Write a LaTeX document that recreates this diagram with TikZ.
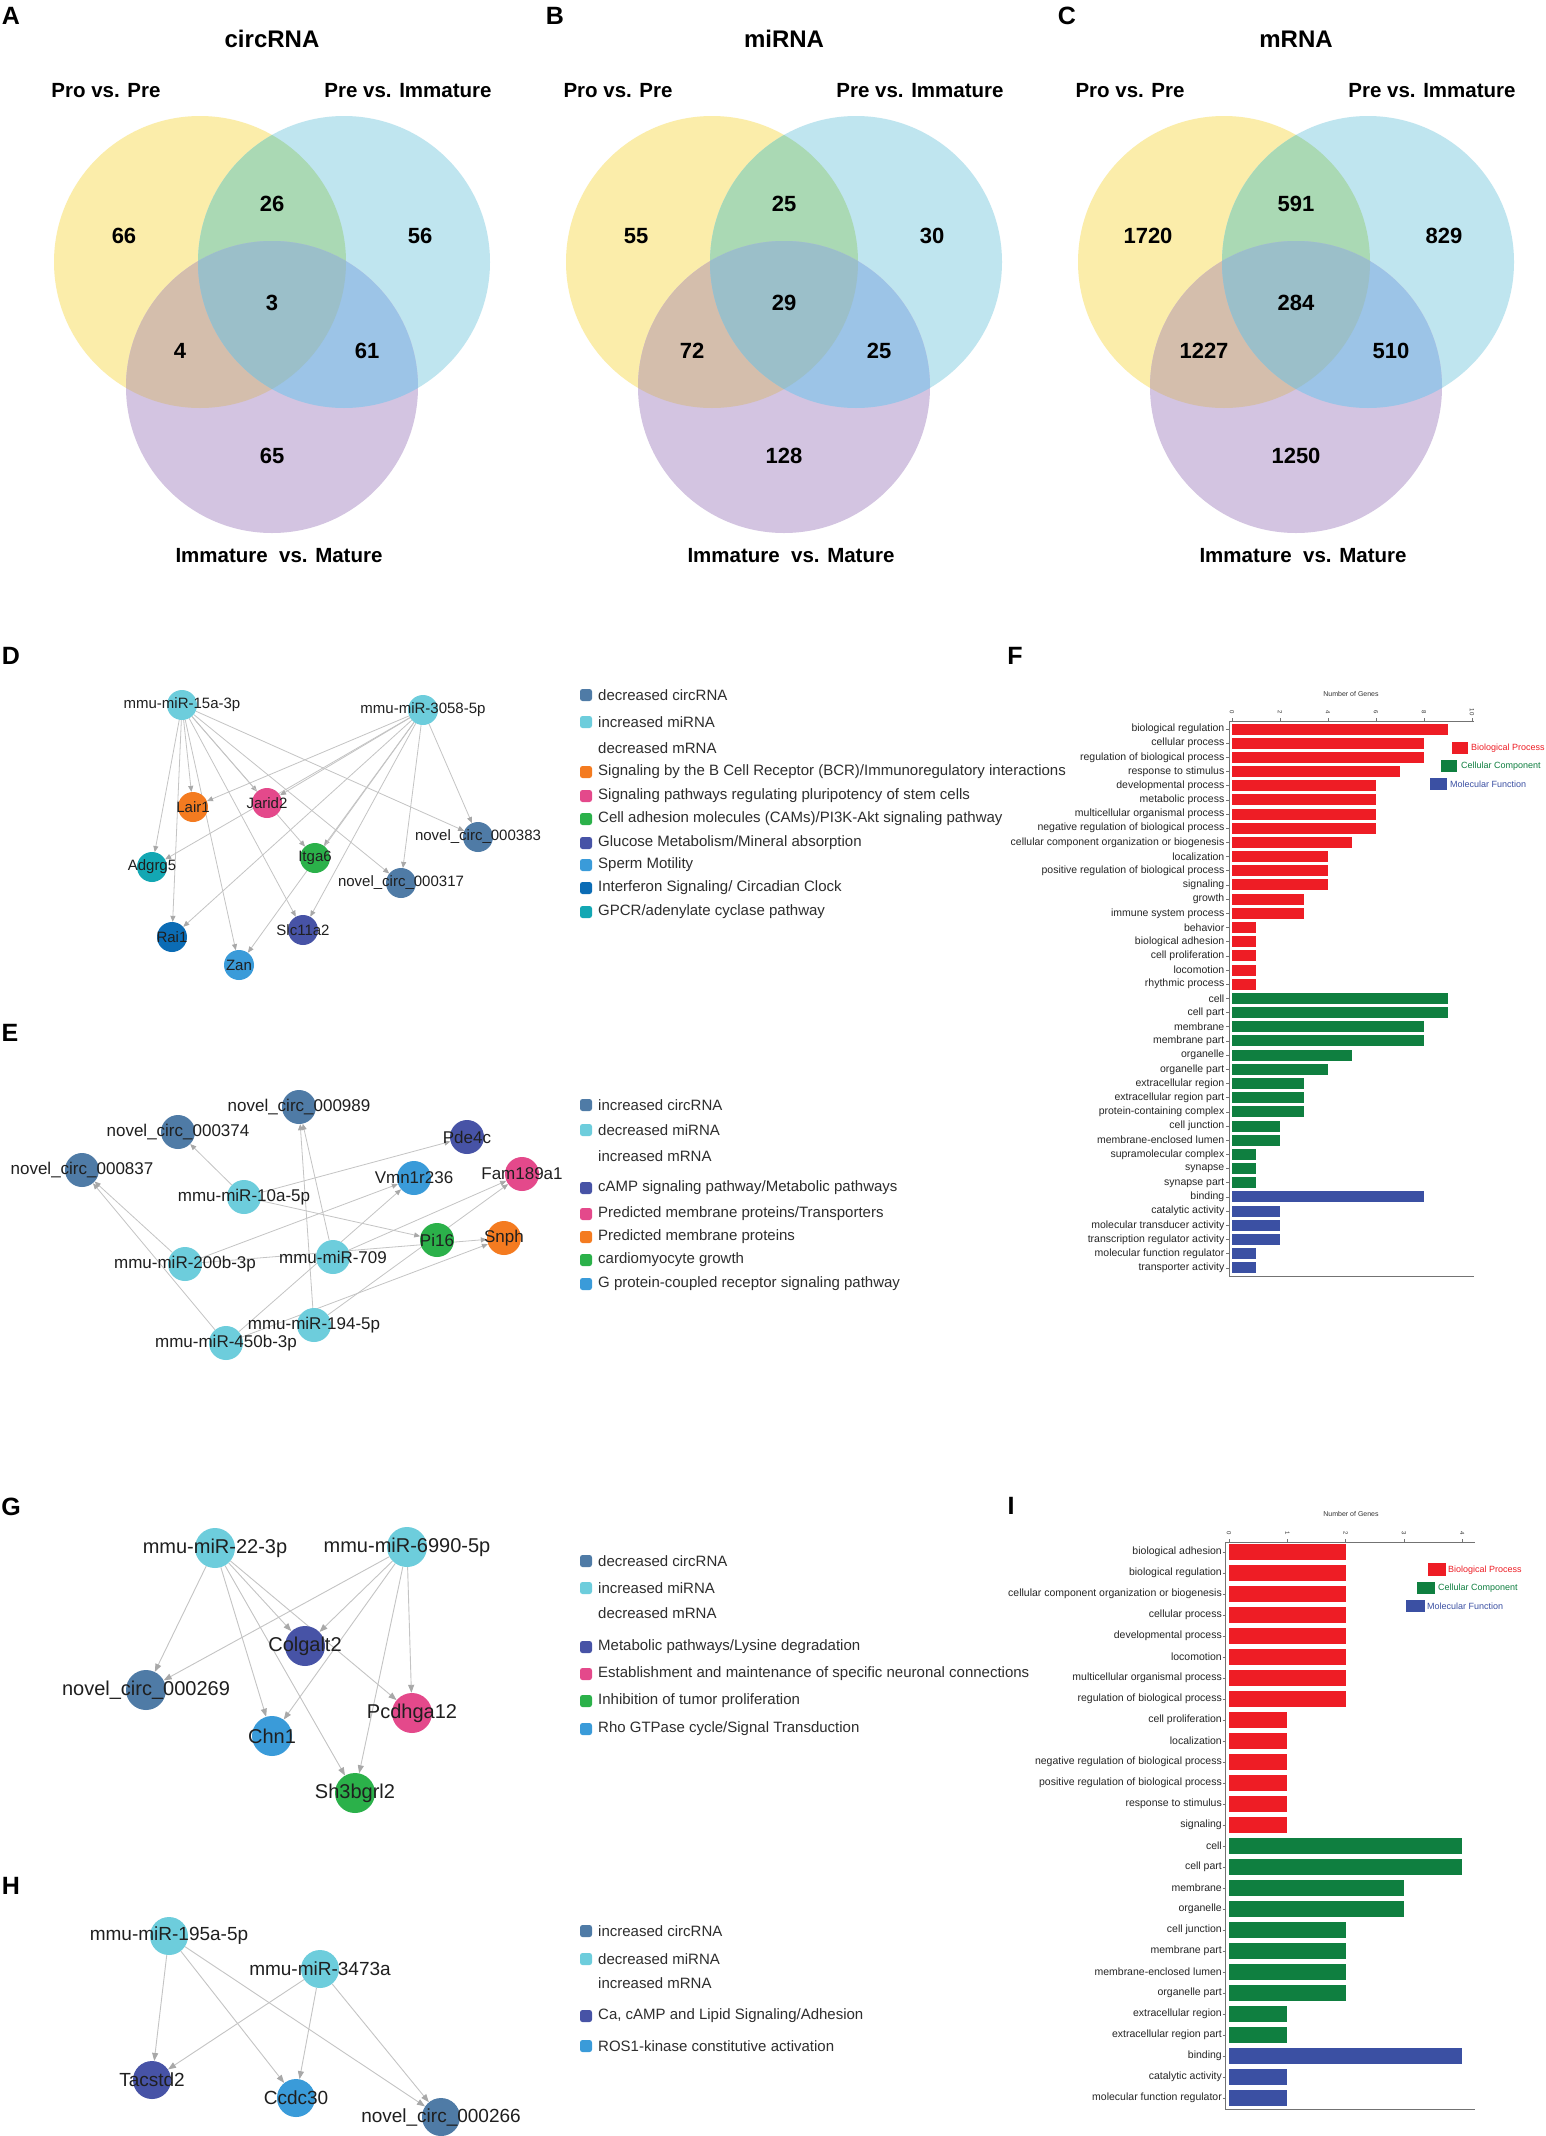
\documentclass[tikz,border=0pt]{standalone}
\usepackage{fontspec}
\setmainfont{Liberation Sans}
\usetikzlibrary{arrows.meta}
\pgfdeclarelayer{bglayer}
\pgfdeclarelayer{edgelayer}
\pgfsetlayers{bglayer,edgelayer,main}

\definecolor{cCirc}{HTML}{4F7BA6}
\definecolor{cMir}{HTML}{6DCDDC}
\definecolor{cOrange}{HTML}{F47B20}
\definecolor{cPink}{HTML}{E4498B}
\definecolor{cGreen}{HTML}{2BB14A}
\definecolor{cIndigo}{HTML}{4753A6}
\definecolor{cSky}{HTML}{3A9BD9}
\definecolor{cDeep}{HTML}{0B6CB5}
\definecolor{cTeal}{HTML}{13A7B3}
\definecolor{edgeGray}{HTML}{C4C4C4}
\definecolor{arrowGray}{HTML}{A8A8A8}
\definecolor{barRed}{HTML}{EE1D25}
\definecolor{barGreen}{HTML}{0F7F40}
\definecolor{barBlue}{HTML}{3B50A3}
\definecolor{vY}{HTML}{FBEDAA}
\definecolor{vB}{HTML}{BFE5EF}
\definecolor{vP}{HTML}{D3C4E1}
\definecolor{vYB}{HTML}{AAD9B4}
\definecolor{vYP}{HTML}{D4BEAC}
\definecolor{vBP}{HTML}{9CC4E7}
\definecolor{vYBP}{HTML}{9BBFC9}

\tikzset{
 gdot/.style={circle,inner sep=0pt,draw=none},
 dD/.style={gdot,minimum size=30pt},
 dD label/.style={inner sep=0pt,text=black!88,font=\fontsize{15}{15}\selectfont},
 dE/.style={gdot,minimum size=34pt},
 dE label/.style={inner sep=0pt,text=black!88,font=\fontsize{17}{17}\selectfont},
 dG/.style={gdot,minimum size=40pt},
 dG label/.style={inner sep=0pt,text=black!88,font=\fontsize{20}{20}\selectfont},
 dH/.style={gdot,minimum size=38pt},
 dH label/.style={inner sep=0pt,text=black!88,font=\fontsize{19}{19}\selectfont},
 arrS/.style={draw=edgeGray,line width=0.8pt,-{Triangle[length=6pt,width=5pt,color=arrowGray]}},
 arrL/.style={draw=edgeGray,line width=0.9pt,-{Triangle[length=8pt,width=6pt,color=arrowGray]}},
 legsq/.style={rounded corners=2.5pt,minimum size=12pt,inner sep=0pt,draw=none},
 legtx/.style={anchor=west,inner sep=0pt,text=black!82,font=\fontsize{15}{15}\selectfont},
 venn num/.style={font=\bfseries\fontsize{22}{22}\selectfont,inner sep=0pt},
 venn lab/.style={font=\bfseries\fontsize{20.5}{20.5}\selectfont,inner sep=0pt},
 venn title/.style={font=\bfseries\fontsize{24}{24}\selectfont,inner sep=0pt},
 panel/.style={font=\bfseries\fontsize{25}{25}\selectfont,inner sep=0pt},
 barlab/.style={anchor=east,inner sep=0pt,font=\fontsize{10.5}{10.5}\selectfont,text=black!85},
 ticklab/.style={inner sep=0pt,font=\fontsize{6}{6}\selectfont,rotate=-90,text=black!80},
 axtitle/.style={inner sep=0pt,font=\fontsize{7}{7}\selectfont,text=black!80},
 goleg/.style={anchor=west,inner sep=0pt,font=\fontsize{9}{9}\selectfont},
 axline/.style={draw=black!55,line width=0.7pt},
}

\newcommand\vennset[9]{%
 \fill[vY] (#1-72,262) circle[radius=146];
 \fill[vB] (#1+72,262) circle[radius=146];
 \fill[vP] (#1,387) circle[radius=146];
 \begin{scope}\clip (#1-72,262) circle[radius=146];
   \fill[vYB] (#1+72,262) circle[radius=146];
   \fill[vYP] (#1,387) circle[radius=146];
 \end{scope}
 \begin{scope}\clip (#1+72,262) circle[radius=146];
   \fill[vBP] (#1,387) circle[radius=146];
 \end{scope}
 \begin{scope}\clip (#1-72,262) circle[radius=146];\clip (#1+72,262) circle[radius=146];
   \fill[vYBP] (#1,387) circle[radius=146];
 \end{scope}
 \node[venn title] (vtitle#1) at (#1,39) {#2};
 \node[venn lab] (vla#1) at (#1-166,91) {Pro vs. Pre};
 \node[venn lab] (vlb#1) at (#1+136,91) {Pre vs. Immature};
 \node[venn lab] (vlc#1) at (#1+7,556) {Immature\ \ vs. Mature};
 \node[venn num] (vnY#1) at (#1-148,236) {#3};
 \node[venn num] (vnYB#1) at (#1,204) {#4};
 \node[venn num] (vnB#1) at (#1+148,236) {#5};
 \node[venn num] (vnC#1) at (#1,303) {#6};
 \node[venn num] (vnYP#1) at (#1-92,351) {#7};
 \node[venn num] (vnBP#1) at (#1+95,351) {#8};
 \node[venn num] (vnP#1) at (#1,456) {#9};
}
\newcommand\gnode[5]{%
 \node[#4,fill=#3] (#1) at (#2) {};
 \node[#4 label] (#1-t) at (#1.center) {#5};
}
\newcommand\legbox[4]{%
 \node[legsq,fill=#3] (#1-s) at (586,#2) {};
 \node[legtx] (#1) at (598,#2) {#4};
}
\newcommand\legplain[3]{\node[legtx] (#1) at (598,#2) {#3};}

\begin{document}
\begin{tikzpicture}[x=1pt,y=-1pt]
\useasboundingbox (0,0) rectangle (1546,2136);
\begin{pgfonlayer}{bglayer}
\fill[white] (0,0) rectangle (1546,2136);
\end{pgfonlayer}

% ---------- Venn diagrams ----------
\vennset{272}{circRNA}{66}{26}{56}{3}{4}{61}{65}
\vennset{784}{miRNA}{55}{25}{30}{29}{72}{25}{128}
\vennset{1296}{mRNA}{1720}{591}{829}{284}{1227}{510}{1250}

\node[panel] (pA) at (11,16) {A};
\node[panel] (pB) at (555,16) {B};
\node[panel] (pC) at (1067,16) {C};
\node[panel] (pD) at (11,656) {D};
\node[panel] (pE) at (10,1033) {E};
\node[panel] (pF) at (1015,656) {F};
\node[panel] (pG) at (11,1507) {G};
\node[panel] (pH) at (11,1886) {H};
\node[panel] (pI) at (1011,1506) {I};

% ---------- D network ----------
\gnode{dm15}{182,705}{cMir}{dD}{mmu-miR-15a-3p}
\gnode{dm3058}{423,710}{cMir}{dD}{mmu-miR-3058-5p}
\gnode{dlair}{193,807}{cOrange}{dD}{Lair1}
\gnode{djarid}{267,803}{cPink}{dD}{Jarid2}
\gnode{dadg}{152,867}{cTeal}{dD}{Adgrg5}
\gnode{ditga}{315,858}{cGreen}{dD}{Itga6}
\gnode{dc383}{478,837}{cCirc}{dD}{novel\_circ\_000383}
\gnode{dc317}{401,883}{cCirc}{dD}{novel\_circ\_000317}
\gnode{drai}{172,937}{cDeep}{dD}{Rai1}
\gnode{dslc}{303,930}{cIndigo}{dD}{Slc11a2}
\gnode{dzan}{239,965}{cSky}{dD}{Zan}
\begin{pgfonlayer}{edgelayer}
\foreach \t in {dlair,djarid,dadg,ditga,dc383,dc317,drai,dslc,dzan}{
  \draw[arrS] (dm15) -- (\t);
  \draw[arrS] (dm3058) -- (\t);
}
\end{pgfonlayer}

\legbox{dl1}{695}{cCirc}{decreased circRNA}
\legbox{dl2}{722}{cMir}{increased miRNA}
\legplain{dl3}{748}{decreased mRNA}
\legbox{dl4}{772}{cOrange}{Signaling by the B Cell Receptor (BCR)/Immunoregulatory interactions}
\legbox{dl5}{796}{cPink}{Signaling pathways regulating pluripotency of stem cells}
\legbox{dl6}{819}{cGreen}{Cell adhesion molecules (CAMs)/PI3K-Akt signaling pathway}
\legbox{dl7}{843}{cIndigo}{Glucose Metabolism/Mineral absorption}
\legbox{dl8}{865}{cSky}{Sperm Motility}
\legbox{dl9}{888}{cDeep}{Interferon Signaling/ Circadian Clock}
\legbox{dl10}{912}{cTeal}{GPCR/adenylate cyclase pathway}

% ---------- E network ----------
\gnode{ec989}{299,1107}{cCirc}{dE}{novel\_circ\_000989}
\gnode{ec374}{178,1132}{cCirc}{dE}{novel\_circ\_000374}
\gnode{ec837}{82,1170}{cCirc}{dE}{novel\_circ\_000837}
\gnode{epde}{467,1137}{cIndigo}{dE}{Pde4c}
\gnode{evmn}{414,1178}{cSky}{dE}{Vmn1r236}
\gnode{efam}{522,1174}{cPink}{dE}{Fam189a1}
\gnode{em10a}{244,1197}{cMir}{dE}{mmu-miR-10a-5p}
\gnode{epi}{437,1240}{cGreen}{dE}{Pi16}
\gnode{esnph}{504,1238}{cOrange}{dE}{Snph}
\gnode{em200b}{185,1264}{cMir}{dE}{mmu-miR-200b-3p}
\gnode{em709}{333,1257}{cMir}{dE}{mmu-miR-709}
\gnode{em194}{314,1325}{cMir}{dE}{mmu-miR-194-5p}
\gnode{em450b}{226,1343}{cMir}{dE}{mmu-miR-450b-3p}
\begin{pgfonlayer}{edgelayer}
\draw[arrS] (em10a) -- (ec374);
\draw[arrS] (em10a) -- (epde);
\draw[arrS] (em10a) -- (epi);
\draw[arrS] (em200b) -- (ec837);
\draw[arrS] (em200b) -- (evmn);
\draw[arrS] (em200b) -- (esnph);
\draw[arrS] (em450b) -- (ec837);
\draw[arrS] (em450b) -- (evmn);
\draw[arrS] (em450b) -- (esnph);
\draw[arrS] (em709) -- (ec989);
\draw[arrS] (em709) -- (efam);
\draw[arrS] (em194) -- (ec989);
\draw[arrS] (em194) -- (efam);
\end{pgfonlayer}

\legbox{el1}{1105}{cCirc}{increased circRNA}
\legbox{el2}{1130}{cMir}{decreased miRNA}
\legplain{el3}{1156}{increased mRNA}
\legbox{el4}{1188}{cIndigo}{cAMP signaling pathway/Metabolic pathways}
\legbox{el5}{1214}{cPink}{Predicted membrane proteins/Transporters}
\legbox{el6}{1237}{cOrange}{Predicted membrane proteins}
\legbox{el7}{1260}{cGreen}{cardiomyocyte growth}
\legbox{el8}{1284}{cSky}{G protein-coupled receptor signaling pathway}

% ---------- G network ----------
\gnode{gm22}{215,1548}{cMir}{dG}{mmu-miR-22-3p}
\gnode{gm6990}{407,1547}{cMir}{dG}{mmu-miR-6990-5p}
\gnode{gcolg}{305,1646}{cIndigo}{dG}{Colgalt2}
\gnode{gc269}{146,1690}{cCirc}{dG}{novel\_circ\_000269}
\gnode{gpcd}{412,1713}{cPink}{dG}{Pcdhga12}
\gnode{gchn}{272,1736}{cSky}{dG}{Chn1}
\gnode{gsh3}{355,1793}{cGreen}{dG}{Sh3bgrl2}
\begin{pgfonlayer}{edgelayer}
\foreach \t in {gcolg,gc269,gpcd,gchn,gsh3}{
  \draw[arrL] (gm22) -- (\t);
  \draw[arrL] (gm6990) -- (\t);
}
\end{pgfonlayer}

\legbox{gl1}{1561}{cCirc}{decreased circRNA}
\legbox{gl2}{1588}{cMir}{increased miRNA}
\legplain{gl3}{1613}{decreased mRNA}
\legbox{gl4}{1647}{cIndigo}{Metabolic pathways/Lysine degradation}
\legbox{gl5}{1674}{cPink}{Establishment and maintenance of specific neuronal connections}
\legbox{gl6}{1701}{cGreen}{Inhibition of tumor proliferation}
\legbox{gl7}{1729}{cSky}{Rho GTPase cycle/Signal Transduction}

% ---------- H network ----------
\gnode{hm195}{169,1936}{cMir}{dH}{mmu-miR-195a-5p}
\gnode{hm3473}{320,1969}{cMir}{dH}{mmu-miR-3473a}
\gnode{htac}{152,2080}{cIndigo}{dH}{Tacstd2}
\gnode{hccdc}{296,2098}{cSky}{dH}{Ccdc30}
\gnode{hc266}{441,2117}{cCirc}{dH}{novel\_circ\_000266}
\begin{pgfonlayer}{edgelayer}
\foreach \t in {htac,hccdc,hc266}{
  \draw[arrL] (hm195) -- (\t);
  \draw[arrL] (hm3473) -- (\t);
}
\end{pgfonlayer}

\legbox{hl1}{1931}{cCirc}{increased circRNA}
\legbox{hl2}{1959}{cMir}{decreased miRNA}
\legplain{hl3}{1983}{increased mRNA}
\legbox{hl4}{2016}{cIndigo}{Ca, cAMP and Lipid Signaling/Adhesion}
\legbox{hl5}{2046}{cSky}{ROS1-kinase constitutive activation}

% ---------- F bar chart ----------
\node[axtitle] (Ftitle) at (1351,694) {Number of Genes};
\draw[axline] (1229,721) -- (1474,721);
\draw[axline] (1229,721) -- (1229,1276);
\draw[axline] (1229,1276) -- (1474,1276);
\foreach \k in {0,2,4,6,8,10}{
  \draw[axline] ({1232+24*\k},721) -- ({1232+24*\k},718);
  \node[ticklab] (Ft\k) at ({1232+24*\k},712) {\k};
}
\foreach \lab/\val/\col [count=\i from 0] in {
 biological regulation/9/barRed, cellular process/8/barRed, regulation of biological process/8/barRed,
 response to stimulus/7/barRed, developmental process/6/barRed, metabolic process/6/barRed,
 multicellular organismal process/6/barRed, negative regulation of biological process/6/barRed,
 cellular component organization or biogenesis/5/barRed, localization/4/barRed,
 positive regulation of biological process/4/barRed, signaling/4/barRed, growth/3/barRed,
 immune system process/3/barRed, behavior/1/barRed, biological adhesion/1/barRed,
 cell proliferation/1/barRed, locomotion/1/barRed, rhythmic process/1/barRed,
 cell/9/barGreen, cell part/9/barGreen, membrane/8/barGreen, membrane part/8/barGreen,
 organelle/5/barGreen, organelle part/4/barGreen, extracellular region/3/barGreen,
 extracellular region part/3/barGreen, protein-containing complex/3/barGreen,
 cell junction/2/barGreen, membrane-enclosed lumen/2/barGreen, supramolecular complex/1/barGreen,
 synapse/1/barGreen, synapse part/1/barGreen,
 binding/8/barBlue, catalytic activity/2/barBlue, molecular transducer activity/2/barBlue,
 transcription regulator activity/2/barBlue, molecular function regulator/1/barBlue,
 transporter activity/1/barBlue}{
  \pgfmathsetmacro\yy{729+14.18*\i}
  \fill[\col] (1232,\yy-5.5) rectangle ({1232+24*\val},\yy+5.5);
  \draw[axline] (1226,\yy) -- (1229,\yy);
  \node[barlab] (Fl\i) at (1224.5,\yy) {\lab};
}
\fill[barRed] (1452,742) rectangle (1468,754);
\node[goleg,text=barRed] (Fg1) at (1471,748) {Biological Process};
\fill[barGreen] (1441,760) rectangle (1457,772);
\node[goleg,text=barGreen] (Fg2) at (1461,766) {Cellular Component};
\fill[barBlue] (1430,778) rectangle (1447,790);
\node[goleg,text=barBlue] (Fg3) at (1450,784) {Molecular Function};

% ---------- I bar chart ----------
\node[axtitle] (Ititle) at (1351,1514) {Number of Genes};
\draw[axline] (1225,1542) -- (1475,1542);
\draw[axline] (1225,1542) -- (1225,2109);
\draw[axline] (1225,2109) -- (1475,2109);
\foreach \k in {0,1,2,3,4}{
  \draw[axline] ({1229+58.3*\k},1542) -- ({1229+58.3*\k},1539);
  \node[ticklab] (It\k) at ({1229+58.3*\k},1533) {\k};
}
\foreach \lab/\val/\col [count=\i from 0] in {
 biological adhesion/2/barRed, biological regulation/2/barRed,
 cellular component organization or biogenesis/2/barRed, cellular process/2/barRed,
 developmental process/2/barRed, locomotion/2/barRed, multicellular organismal process/2/barRed,
 regulation of biological process/2/barRed, cell proliferation/1/barRed, localization/1/barRed,
 negative regulation of biological process/1/barRed, positive regulation of biological process/1/barRed,
 response to stimulus/1/barRed, signaling/1/barRed,
 cell/4/barGreen, cell part/4/barGreen, membrane/3/barGreen, organelle/3/barGreen,
 cell junction/2/barGreen, membrane part/2/barGreen, membrane-enclosed lumen/2/barGreen,
 organelle part/2/barGreen, extracellular region/1/barGreen, extracellular region part/1/barGreen,
 binding/4/barBlue, catalytic activity/1/barBlue, molecular function regulator/1/barBlue}{
  \pgfmathsetmacro\yy{1552+21*\i}
  \fill[\col] (1229,\yy-8) rectangle ({1229+58.3*\val},\yy+8);
  \draw[axline] (1222.5,\yy) -- (1225,\yy);
  \node[barlab] (Il\i) at (1222,\yy) {\lab};
}
\fill[barRed] (1428,1563) rectangle (1446,1576);
\node[goleg,text=barRed] (Ig1) at (1448,1570) {Biological Process};
\fill[barGreen] (1417,1582) rectangle (1435,1594);
\node[goleg,text=barGreen] (Ig2) at (1438,1588) {Cellular Component};
\fill[barBlue] (1406,1600) rectangle (1425,1612);
\node[goleg,text=barBlue] (Ig3) at (1427,1606) {Molecular Function};

\end{tikzpicture}
\end{document}
